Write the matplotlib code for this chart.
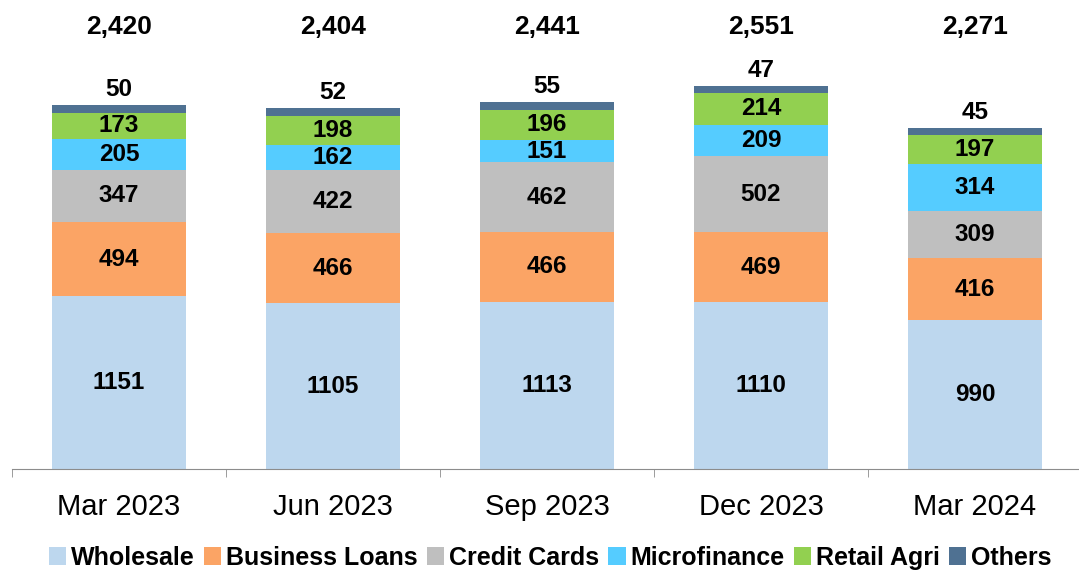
import matplotlib
matplotlib.use("Agg")
import matplotlib.pyplot as plt
from matplotlib.patches import Patch
import numpy as np

plt.rcParams['font.family'] = ['Liberation Sans', 'DejaVu Sans']

categories = ["Mar 2023", "Jun 2023", "Sep 2023", "Dec 2023", "Mar 2024"]
series_names = ["Wholesale", "Business Loans", "Credit Cards", "Microfinance", "Retail Agri", "Others"]
wholesale = [1151, 1105, 1113, 1110, 990]
business_loans = [494, 466, 466, 469, 416]
credit_cards = [347, 422, 462, 502, 309]
microfinance = [205, 162, 151, 209, 314]
retail_agri = [173, 198, 196, 214, 197]
others = [50, 52, 55, 47, 45]
totals = ["2,420", "2,404", "2,441", "2,551", "2,271"]

colors = ["#BDD7EE", "#FBA465", "#BFBFBF", "#55CCFF", "#92D050", "#4F7192"]
series = [wholesale, business_loans, credit_cards, microfinance, retail_agri, others]

fig = plt.figure(figsize=(10.79, 5.72), dpi=100)
ax = fig.add_axes([0.0111, 0.18, 0.9917, 0.82])

x = np.arange(len(categories))
bottom = np.zeros(len(categories))
width = 0.626
for name, vals, col in zip(series_names, series, colors):
    vals = np.array(vals, dtype=float)
    bars = ax.bar(x, vals, width, bottom=bottom, color=col, label=name, zorder=2)
    for xi, b, v in zip(x, bottom, vals):
        if name == "Others":
            ax.annotate(f"{int(v)}", (xi, b + v), xytext=(0, 3), textcoords="offset points",
                        ha="center", va="bottom", fontsize=17.5, fontweight="bold")
        else:
            ax.text(xi, b + v / 2, f"{int(v)}", ha="center", va="center",
                    fontsize=17.5, fontweight="bold")
    bottom += vals

for xi, t in zip(x, totals):
    ax.text(xi, 2945, t, ha="center", va="center", fontsize=19, fontweight="bold")

ax.set_xlim(-0.5, 4.5)
ax.set_ylim(0, 3122)
ax.set_yticks([])
for s in ["left", "right", "top"]:
    ax.spines[s].set_visible(False)
ax.spines["bottom"].set_color("#8C8C8C")
ax.set_xticks(x)
ax.set_xticklabels(categories, fontsize=21)
ax.tick_params(axis="x", which="major", length=0, pad=17)
ax.set_xticks(np.arange(-0.5, 5, 1.0), minor=True)
ax.tick_params(axis="x", which="minor", length=6, color="#8C8C8C")

handles = [Patch(facecolor=c, edgecolor="none") for c in colors]
fig.legend(handles, series_names, loc="lower center", bbox_to_anchor=(0.51, -0.035), ncol=6,
           frameon=False, handlelength=0.7, handleheight=0.7, handletextpad=0.2,
           columnspacing=0.35, prop={"weight": "bold", "size": 18})

fig.savefig("out.png", dpi=100)
